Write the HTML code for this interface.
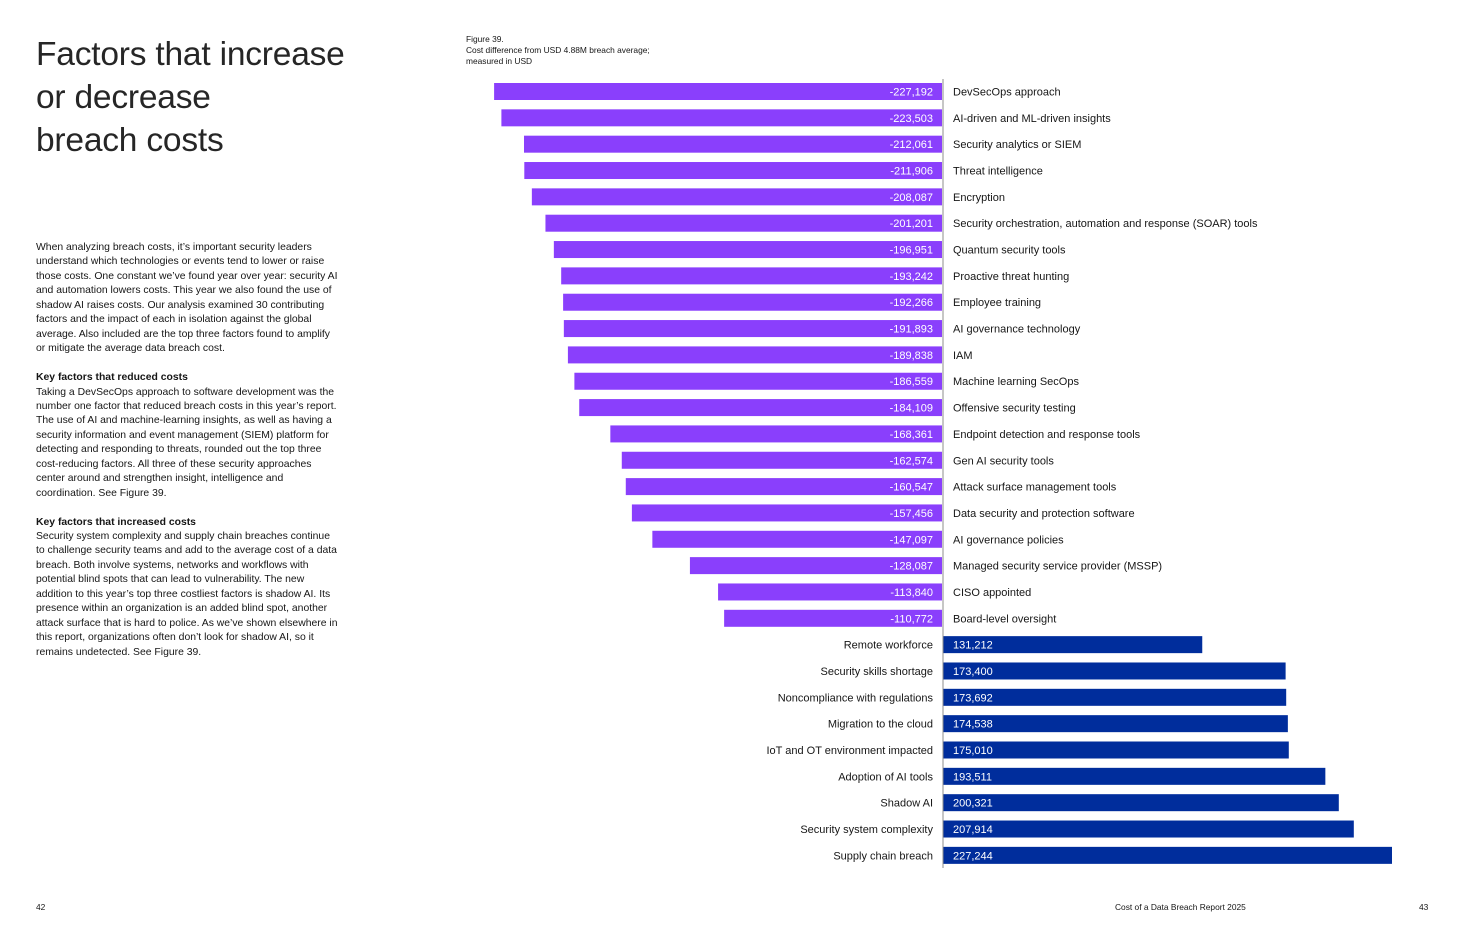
<!DOCTYPE html>
<html><head><meta charset="utf-8"><style>
body{margin:0;width:1467px;height:946px;background:#fff;font-family:"Liberation Sans",sans-serif;color:#161616;position:relative;overflow:hidden}
.t{position:absolute}
h1{position:absolute;left:36px;top:33px;margin:0;font-weight:normal;font-size:33.5px;line-height:43px;letter-spacing:-0.2px;color:#262626}
.body{position:absolute;left:36px;top:241px;width:302px;font-size:10.4px;line-height:14.45px}
.body p{margin:0 0 14.45px 0}
</style></head><body>
<h1>Factors that increase<br>or decrease<br>breach costs</h1>
<div class="body">
<p>When analyzing breach costs, it’s important security leaders understand which technologies or events tend to lower or raise those costs. One constant we’ve found year over year: security AI and automation lowers costs. This year we also found the use of shadow AI raises costs. Our analysis examined 30 contributing factors and the impact of each in isolation against the global average. Also included are the top three factors found to amplify or mitigate the average data breach cost.</p>
<p><b>Key factors that reduced costs</b><br>Taking a DevSecOps approach to software development was the number one factor that reduced breach costs in this year’s report. The use of AI and machine-learning insights, as well as having a security information and event management (SIEM) platform for detecting and responding to threats, rounded out the top three cost-reducing factors. All three of these security approaches center around and strengthen insight, intelligence and coordination. See Figure 39.</p>
<p><b>Key factors that increased costs</b><br>Security system complexity and supply chain breaches continue to challenge security teams and add to the average cost of a data breach. Both involve systems, networks and workflows with potential blind spots that can lead to vulnerability. The new addition to this year’s top three costliest factors is shadow AI. Its presence within an organization is an added blind spot, another attack surface that is hard to police. As we’ve shown elsewhere in this report, organizations often don’t look for shadow AI, so it remains undetected. See Figure 39.</p>
</div>
<div class="t" style="left:466px;top:34px;font-size:8.4px;line-height:11px">Figure 39.<br>Cost difference from USD 4.88M breach average;<br>measured in USD</div>
<div class="t" style="left:36px;top:902px;font-size:8.4px">42</div>
<div class="t" style="left:1115px;top:902px;font-size:8.4px">Cost of a Data Breach Report 2025</div>
<div class="t" style="left:1419px;top:902px;font-size:8.4px">43</div>
<svg id="chart" class="t" style="left:0;top:0" width="1467" height="946"></svg>
<script>
const categories=["DevSecOps approach","AI-driven and ML-driven insights","Security analytics or SIEM","Threat intelligence","Encryption","Security orchestration, automation and response (SOAR) tools","Quantum security tools","Proactive threat hunting","Employee training","AI governance technology","IAM","Machine learning SecOps","Offensive security testing","Endpoint detection and response tools","Gen AI security tools","Attack surface management tools","Data security and protection software","AI governance policies","Managed security service provider (MSSP)","CISO appointed","Board-level oversight","Remote workforce","Security skills shortage","Noncompliance with regulations","Migration to the cloud","IoT and OT environment impacted","Adoption of AI tools","Shadow AI","Security system complexity","Supply chain breach"];
const values=[-227192,-223503,-212061,-211906,-208087,-201201,-196951,-193242,-192266,-191893,-189838,-186559,-184109,-168361,-162574,-160547,-157456,-147097,-128087,-113840,-110772,131212,173400,173692,174538,175010,193511,200321,207914,227244];
const NS="http://www.w3.org/2000/svg";
const svg=document.getElementById('chart');
const x0=943,scale=449/227244;
const xs=v=>x0+v*scale;
const y=i=>83+i*26.34;
const bh=17;
function mk(t,a){const e=document.createElementNS(NS,t);for(const k in a)e.setAttribute(k,a[k]);svg.appendChild(e);return e;}
const fmt=v=>(v<0?"-":"")+Math.abs(v).toLocaleString("en-US");
values.forEach((v,i)=>{
 const neg=v<0;
 const r=mk('rect',{x:neg?xs(v):x0,y:y(i),width:Math.abs(xs(v)-x0)-(neg?1:0),height:bh,fill:neg?'#8a3ffc':'#002d9c'});
 
 
 const vt=mk('text',{x:neg?x0-10:x0+10,y:y(i)+12.5,'font-size':'11','text-anchor':neg?'end':'start',fill:'#fff','font-family':'Liberation Sans, sans-serif'});
 vt.textContent=fmt(v);
 
 
 const ct=mk('text',{x:neg?x0+10:x0-10,y:y(i)+12.5,'font-size':'11','text-anchor':neg?'start':'end',fill:'#161616','font-family':'Liberation Sans, sans-serif'});
 ct.textContent=categories[i];
 
 
});
const ax=mk('line',{x1:x0,x2:x0,y1:79,y2:868,stroke:'#8d8d8d','stroke-width':1});


</script>
</body></html>
